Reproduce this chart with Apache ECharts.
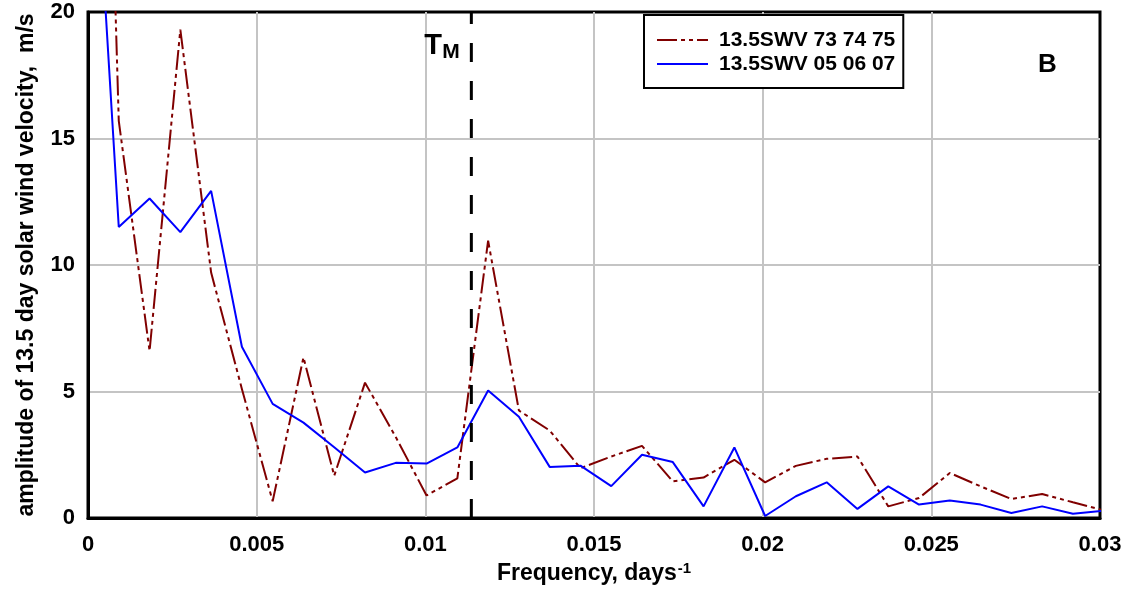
<!DOCTYPE html>
<html>
<head>
<meta charset="utf-8">
<script src="https://cdn.jsdelivr.net/npm/echarts@6/dist/echarts.min.js"></script>
<style>
  html, body { margin: 0; padding: 0; background: #fff; }
  #chart { width: 1130px; height: 590px; }
</style>
</head>
<body>
<div id="chart"></div>
<script>
// Spectral frequencies (days^-1), spacing 1/1096 d^-1 for a three-year record
const frequencies = [
  0, 0.000912, 0.001825, 0.002737, 0.003650, 0.004562, 0.005474, 0.006387,
  0.007299, 0.008212, 0.009124, 0.010036, 0.010949, 0.011861, 0.012774, 0.013686,
  0.014599, 0.015511, 0.016423, 0.017336, 0.018248, 0.019161, 0.020073, 0.020985,
  0.021898, 0.022810, 0.023723, 0.024635, 0.025547, 0.026460, 0.027372, 0.028285,
  0.029197, 0.030109
];

// Amplitude of the 13.5-day solar wind velocity, m/s
const swv737475 = [
  57, 15.7, 6.6, 19.3, 9.7, 5.1, 0.66, 6.35,
  1.67, 5.35, 3.2, 0.89, 1.57, 10.96, 4.25, 3.46,
  1.97, 2.43, 2.85, 1.45, 1.6, 2.3, 1.41, 2.06,
  2.34, 2.43, 0.46, 0.79, 1.78, 1.25, 0.75, 0.95,
  0.62, 0.3
];
const swv050607 = [
  31.5, 11.5, 12.63, 11.3, 12.93, 6.77, 4.51, 3.77,
  2.8, 1.8, 2.18, 2.15, 2.79, 5.04, 4.0, 2.02,
  2.07, 1.26, 2.5, 2.21, 0.46, 2.79, 0.08, 0.86,
  1.41, 0.36, 1.25, 0.53, 0.69, 0.53, 0.2, 0.46,
  0.17, 0.29
];

const seriesNames = ['13.5SWV 73 74 75', '13.5SWV 05 06 07'];

// Mercury orbital frequency, 1/88 days^-1
const mercuryFreq = [0.011364, 0.011364];
const mercuryAmp = [0, 20];

const xTickLabels = ['0', '0.005', '0.01', '0.015', '0.02', '0.025', '0.03'];
const yTickLabels = ['0', '5', '10', '15', '20'];

const FONT = 'Liberation Sans, Arial, Helvetica, sans-serif';

function pairs(xs, ys) {
  return xs.map((x, i) => [x, ys[i]]);
}

const chart = echarts.init(document.getElementById('chart'), null, { renderer: 'canvas' });

const gridColor = '#c4c4c4';

chart.setOption({
  animation: false,
  backgroundColor: '#ffffff',
  textStyle: { fontFamily: FONT },
  grid: {
    left: 88, right: 30, top: 12, bottom: 72,
    containLabel: false, outerBoundsMode: 'none',
    show: true, borderColor: '#000', borderWidth: 3, backgroundColor: 'transparent'
  },
  legend: {
    left: 644, top: 15,
    orient: 'vertical',
    itemWidth: 51, itemHeight: 12, itemGap: 2,
    padding: [14, 8, 13, 12],
    borderColor: '#000', borderWidth: 2,
    backgroundColor: '#fff',
    itemStyle: { opacity: 0 },
    textStyle: { fontSize: 21, fontWeight: 'bold', fontFamily: FONT, color: '#000', padding: [0, 0, 0, 6], lineHeight: 22 },
    data: seriesNames
  },
  xAxis: {
    type: 'value', min: 0, max: 0.03, interval: 0.005,
    axisLine: { show: true, lineStyle: { color: '#000', width: 3 } },
    axisTick: { show: false },
    axisLabel: {
      margin: 16, fontSize: 22, fontWeight: 'bold', color: '#000', fontFamily: FONT,
      formatter: v => xTickLabels[Math.round(v / 0.005)]
    },
    splitLine: { show: true, showMinLine: false, showMaxLine: false, lineStyle: { color: gridColor, width: 2 } },
    name: '{a|Frequency, days}{s|-1}',
    nameLocation: 'middle', nameGap: 43,
    nameTextStyle: {
      rich: {
        a: { fontSize: 23, fontWeight: 'bold', color: '#000', fontFamily: FONT, lineHeight: 26 },
        s: { fontSize: 15, fontWeight: 'bold', color: '#000', fontFamily: FONT, verticalAlign: 'top', lineHeight: 26, padding: [0, 0, 12, 1] }
      }
    }
  },
  yAxis: {
    type: 'value', min: 0, max: 20, interval: 5,
    axisLine: { show: true, lineStyle: { color: '#000', width: 3 } },
    axisTick: { show: false },
    axisLabel: {
      margin: 13, fontSize: 22, fontWeight: 'bold', color: '#000', fontFamily: FONT,
      formatter: v => yTickLabels[Math.round(v / 5)]
    },
    splitLine: { show: true, showMinLine: false, showMaxLine: false, lineStyle: { color: gridColor, width: 2 } },
    name: 'amplitude of 13.5 day solar wind velocity,  m/s',
    nameLocation: 'middle', nameRotate: 90, nameGap: 50,
    nameTextStyle: { fontSize: 23, fontWeight: 'bold', color: '#000', fontFamily: FONT }
  },
  series: [
    {
      name: seriesNames[0], type: 'line', symbol: 'none', clip: true, z: 3,
      lineStyle: { color: '#800000', width: 2, type: [20, 4, 4, 4, 4, 4] },
      itemStyle: { color: '#800000' },
      data: pairs(frequencies, swv737475)
    },
    {
      name: seriesNames[1], type: 'line', symbol: 'none', clip: true, z: 4,
      lineStyle: { color: '#0000ff', width: 2 },
      itemStyle: { color: '#0000ff' },
      data: pairs(frequencies, swv050607)
    },
    {
      name: 'TM', type: 'line', symbol: 'none', clip: true, z: 5,
      lineStyle: { color: '#000', width: 3, type: [19, 19] },
      data: pairs(mercuryFreq, mercuryAmp),
      silent: true
    }
  ]
});

// Annotations anchored to the Mercury line and the plot frame
const tmTop = chart.convertToPixel({ xAxisIndex: 0, yAxisIndex: 0 }, [mercuryFreq[0], mercuryAmp[1]]);
const plotCorner = chart.convertToPixel({ xAxisIndex: 0, yAxisIndex: 0 }, [0.03, 20]);

chart.setOption({
  graphic: [
    {
      type: 'text', left: tmTop[0] - 47, top: tmTop[1] + 19, z: 10,
      style: { text: 'T', font: 'bold 29px ' + FONT, fill: '#000' }
    },
    {
      type: 'text', left: tmTop[0] - 29, top: tmTop[1] + 30, z: 10,
      style: { text: 'M', font: 'bold 21px ' + FONT, fill: '#000' }
    },
    {
      type: 'text', left: plotCorner[0] - 62, top: plotCorner[1] + 40, z: 10,
      style: { text: 'B', font: 'bold 26px ' + FONT, fill: '#000' }
    }
  ]
});
</script>
</body>
</html>
